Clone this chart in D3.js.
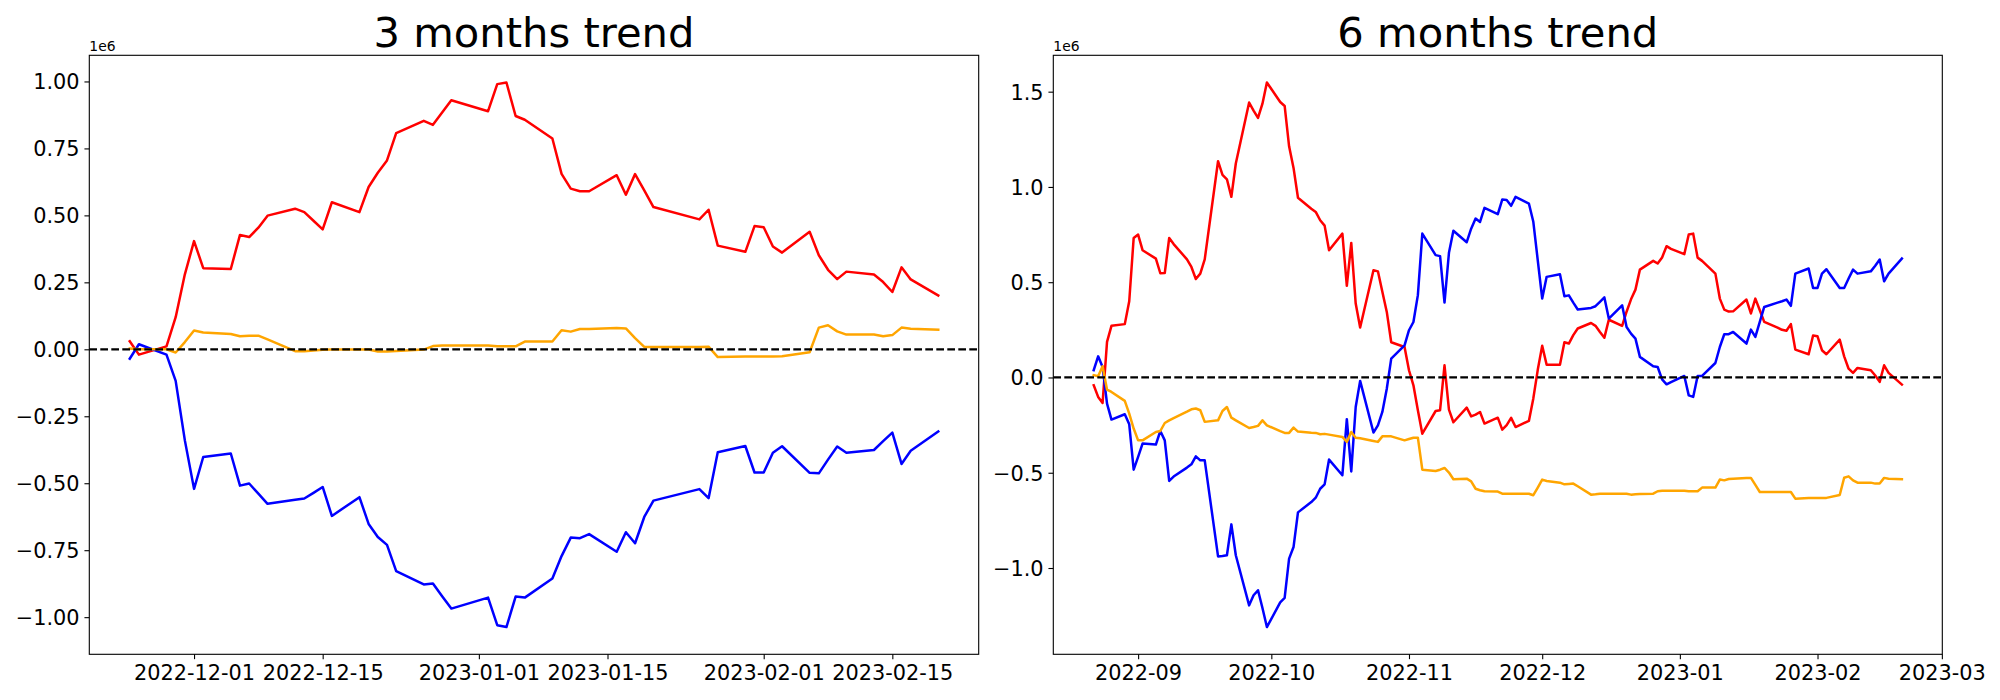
<!DOCTYPE html>
<html>
<head>
<meta charset="utf-8">
<script src="https://cdn.jsdelivr.net/npm/d3@7"></script>
<style>
    body { margin: 0; background: #fff; }
    svg { display: block; font-family: "DejaVu Sans", sans-serif; }
</style>
</head>
<body>
<script>

// all values are in units of 1e6 (the "1e6" offset label on each axis)

// ---- 3 months panel ----
const dates3m = [
    "2022-11-24", "2022-11-25", "2022-11-28", "2022-11-29", "2022-11-30",
    "2022-12-01", "2022-12-02", "2022-12-05", "2022-12-06", "2022-12-07", "2022-12-08", "2022-12-09",
    "2022-12-12", "2022-12-13", "2022-12-14", "2022-12-15", "2022-12-16", "2022-12-19", "2022-12-20",
    "2022-12-21", "2022-12-22", "2022-12-23", "2022-12-26", "2022-12-27", "2022-12-28", "2022-12-29",
    "2023-01-02", "2023-01-03", "2023-01-04", "2023-01-05", "2023-01-06", "2023-01-09", "2023-01-10",
    "2023-01-11", "2023-01-12", "2023-01-13", "2023-01-16", "2023-01-17", "2023-01-18", "2023-01-19",
    "2023-01-20", "2023-01-25", "2023-01-26", "2023-01-27", "2023-01-30", "2023-01-31",
    "2023-02-01", "2023-02-02", "2023-02-03", "2023-02-06", "2023-02-07", "2023-02-08", "2023-02-09",
    "2023-02-10", "2023-02-13", "2023-02-14", "2023-02-15", "2023-02-16", "2023-02-17", "2023-02-20"
];
const red3m = [
    0.030, -0.020, 0.011, 0.120, 0.280,
    0.404, 0.303, 0.300, 0.427, 0.419, 0.454, 0.499,
    0.525, 0.512, 0.480, 0.448, 0.549, 0.512, 0.606,
    0.659, 0.705, 0.807, 0.853, 0.838, 0.884, 0.930,
    0.889, 0.990, 0.996, 0.871, 0.857, 0.787, 0.655,
    0.600, 0.590, 0.590, 0.650, 0.577, 0.654, 0.593,
    0.531, 0.485, 0.521, 0.387, 0.364, 0.460,
    0.456, 0.384, 0.361, 0.439, 0.351, 0.297, 0.262,
    0.290, 0.279, 0.251, 0.214, 0.306, 0.261, 0.201
];
const blue3m = [
    -0.035, 0.019, -0.020, -0.118, -0.340,
    -0.521, -0.402, -0.389, -0.509, -0.501, -0.539, -0.577,
    -0.562, -0.557, -0.536, -0.514, -0.622, -0.552, -0.652,
    -0.701, -0.730, -0.828, -0.878, -0.874, -0.922, -0.968,
    -0.927, -1.030, -1.037, -0.923, -0.927, -0.856, -0.772,
    -0.703, -0.705, -0.690, -0.756, -0.683, -0.724, -0.626,
    -0.565, -0.522, -0.556, -0.384, -0.361, -0.460,
    -0.460, -0.386, -0.362, -0.461, -0.463, -0.412, -0.363,
    -0.386, -0.376, -0.343, -0.311, -0.428, -0.379, -0.307
];
const orange3m = [
    0.003, 0.000, 0.000, -0.012, 0.027,
    0.070, 0.063, 0.057, 0.049, 0.051, 0.051, 0.037,
    -0.007, -0.007, -0.004, -0.002, -0.001, -0.001, -0.001,
    -0.008, -0.008, -0.006, -0.001, 0.012, 0.014, 0.014,
    0.014, 0.011, 0.011, 0.011, 0.029, 0.029, 0.071,
    0.066, 0.076, 0.076, 0.080, 0.078, 0.042, 0.009,
    0.009, 0.009, 0.010, -0.029, -0.027, -0.027,
    -0.027, -0.027, -0.026, -0.011, 0.081, 0.090, 0.067,
    0.055, 0.055, 0.049, 0.053, 0.081, 0.077, 0.073
];
const xTicks3m = ["2022-12-01", "2022-12-15", "2023-01-01", "2023-01-15", "2023-02-01", "2023-02-15"];
const yTicks3m = [-1.0, -0.75, -0.5, -0.25, 0.0, 0.25, 0.5, 0.75, 1.0];

// ---- 6 months panel ----
const dates6m = [
    "2022-08-22", "2022-08-23", "2022-08-24", "2022-08-25", "2022-08-26", "2022-08-29", "2022-08-30", "2022-08-31",
    "2022-09-01", "2022-09-02", "2022-09-05", "2022-09-06", "2022-09-07", "2022-09-08", "2022-09-09",
    "2022-09-12", "2022-09-13", "2022-09-14", "2022-09-15", "2022-09-16", "2022-09-19", "2022-09-20",
    "2022-09-21", "2022-09-22", "2022-09-23", "2022-09-26", "2022-09-27", "2022-09-28", "2022-09-29", "2022-09-30",
    "2022-10-03", "2022-10-04", "2022-10-05", "2022-10-06", "2022-10-07", "2022-10-10", "2022-10-11",
    "2022-10-12", "2022-10-13", "2022-10-14", "2022-10-17", "2022-10-18", "2022-10-19", "2022-10-20",
    "2022-10-21", "2022-10-24", "2022-10-25", "2022-10-26", "2022-10-27", "2022-10-28", "2022-10-31",
    "2022-11-01", "2022-11-02", "2022-11-03", "2022-11-04", "2022-11-07", "2022-11-08", "2022-11-09",
    "2022-11-10", "2022-11-11", "2022-11-14", "2022-11-15", "2022-11-16", "2022-11-17", "2022-11-18",
    "2022-11-21", "2022-11-22", "2022-11-23", "2022-11-24", "2022-11-25", "2022-11-28", "2022-11-29", "2022-11-30",
    "2022-12-01", "2022-12-02", "2022-12-05", "2022-12-06", "2022-12-07", "2022-12-08", "2022-12-09",
    "2022-12-12", "2022-12-13", "2022-12-14", "2022-12-15", "2022-12-16", "2022-12-19", "2022-12-20",
    "2022-12-21", "2022-12-22", "2022-12-23", "2022-12-26", "2022-12-27", "2022-12-28", "2022-12-29", "2022-12-30",
    "2023-01-02", "2023-01-03", "2023-01-04", "2023-01-05", "2023-01-06", "2023-01-09", "2023-01-10",
    "2023-01-11", "2023-01-12", "2023-01-13", "2023-01-16", "2023-01-17", "2023-01-18", "2023-01-19",
    "2023-01-20", "2023-01-23", "2023-01-24", "2023-01-25", "2023-01-26", "2023-01-27", "2023-01-30", "2023-01-31",
    "2023-02-01", "2023-02-02", "2023-02-03", "2023-02-06", "2023-02-07", "2023-02-08", "2023-02-09",
    "2023-02-10", "2023-02-13", "2023-02-14", "2023-02-15", "2023-02-16", "2023-02-17", "2023-02-20"
];
const red6m = [
    -0.041, -0.102, -0.134, 0.187, 0.271, 0.280, 0.400, 0.732,
    0.750, 0.668, 0.624, 0.547, 0.548, 0.732, 0.700,
    0.620, 0.580, 0.517, 0.545, 0.620, 1.135, 1.063,
    1.040, 0.948, 1.123, 1.443, 1.401, 1.362, 1.437, 1.548,
    1.446, 1.425, 1.213, 1.100, 0.943, 0.886, 0.869,
    0.825, 0.797, 0.668, 0.755, 0.481, 0.706, 0.388,
    0.262, 0.563, 0.557, 0.450, 0.344, 0.185, 0.160,
    0.038, -0.041, -0.172, -0.295, -0.176, -0.172, 0.064,
    -0.169, -0.235, -0.158, -0.204, -0.195, -0.181, -0.242,
    -0.211, -0.274, -0.250, -0.212, -0.260, -0.228, -0.110, 0.040,
    0.166, 0.067, 0.067, 0.185, 0.178, 0.222, 0.257,
    0.286, 0.271, 0.239, 0.209, 0.303, 0.271, 0.345,
    0.410, 0.461, 0.566, 0.612, 0.598, 0.630, 0.689, 0.675,
    0.647, 0.750, 0.755, 0.629, 0.612, 0.545, 0.414,
    0.356, 0.346, 0.347, 0.409, 0.336, 0.414, 0.353,
    0.292, 0.262, 0.250, 0.245, 0.280, 0.146, 0.122, 0.220,
    0.216, 0.143, 0.122, 0.199, 0.111, 0.046, 0.024,
    0.050, 0.038, 0.010, -0.023, 0.064, 0.024, -0.037
];
const blue6m = [
    0.038, 0.111, 0.055, -0.137, -0.221, -0.193, -0.246, -0.484,
    -0.417, -0.347, -0.352, -0.281, -0.330, -0.543, -0.520,
    -0.473, -0.456, -0.414, -0.435, -0.435, -0.939, -0.937,
    -0.933, -0.771, -0.933, -1.196, -1.143, -1.117, -1.210, -1.310,
    -1.180, -1.157, -0.951, -0.890, -0.708, -0.654, -0.631,
    -0.584, -0.561, -0.431, -0.513, -0.219, -0.493, -0.155,
    -0.018, -0.289, -0.251, -0.181, -0.059, 0.099, 0.169,
    0.248, 0.291, 0.432, 0.755, 0.642, 0.637, 0.393,
    0.654, 0.770, 0.710, 0.781, 0.834, 0.816, 0.890,
    0.857, 0.934, 0.931, 0.901, 0.948, 0.913, 0.817, 0.615,
    0.414, 0.528, 0.542, 0.426, 0.431, 0.393, 0.357,
    0.365, 0.374, 0.397, 0.420, 0.309, 0.379, 0.265,
    0.230, 0.204, 0.108, 0.059, 0.055, -0.010, -0.036, -0.024,
    0.008, -0.094, -0.102, 0.008, 0.008, 0.076, 0.160,
    0.227, 0.227, 0.239, 0.178, 0.251, 0.213, 0.292,
    0.370, 0.393, 0.400, 0.409, 0.376, 0.545, 0.572, 0.470,
    0.470, 0.545, 0.568, 0.470, 0.470, 0.519, 0.566,
    0.545, 0.557, 0.586, 0.619, 0.505, 0.545, 0.624
];
const orange6m = [
    0.012, 0.006, 0.059, -0.064, -0.076, -0.123, -0.190, -0.268,
    -0.330, -0.330, -0.286, -0.281, -0.239, -0.225, -0.213,
    -0.179, -0.167, -0.163, -0.172, -0.233, -0.225, -0.176,
    -0.155, -0.211, -0.225, -0.265, -0.260, -0.254, -0.225, -0.251,
    -0.282, -0.291, -0.291, -0.263, -0.284, -0.290, -0.291,
    -0.298, -0.296, -0.300, -0.312, -0.338, -0.286, -0.316,
    -0.319, -0.333, -0.338, -0.309, -0.309, -0.309, -0.330,
    -0.323, -0.316, -0.316, -0.484, -0.491, -0.484, -0.475,
    -0.499, -0.534, -0.531, -0.545, -0.584, -0.592, -0.597,
    -0.599, -0.610, -0.610, -0.610, -0.610, -0.610, -0.618, -0.578,
    -0.536, -0.543, -0.552, -0.561, -0.559, -0.557, -0.571,
    -0.615, -0.613, -0.610, -0.610, -0.610, -0.610, -0.610,
    -0.615, -0.613, -0.612, -0.610, -0.597, -0.595, -0.595, -0.594,
    -0.594, -0.597, -0.597, -0.597, -0.578, -0.578, -0.536,
    -0.540, -0.533, -0.531, -0.527, -0.527, -0.564, -0.601,
    -0.601, -0.601, -0.601, -0.601, -0.601, -0.636, -0.632, -0.632,
    -0.632, -0.632, -0.632, -0.617, -0.526, -0.519, -0.540,
    -0.552, -0.552, -0.557, -0.557, -0.527, -0.531, -0.534
];
const xTicks6m = ["2022-09-01", "2022-10-01", "2022-11-01", "2022-12-01", "2023-01-01", "2023-02-01", "2023-03-01"];
const yTicks6m = [-1.0, -0.5, 0.0, 0.5, 1.0, 1.5];


var parseDate = d3.utcParse("%Y-%m-%d");
var tickFont = 20.83;   // 15pt at 100dpi

var svg = d3.select("body")
    .append("svg")
    .attr("width", 2000)
    .attr("height", 700);

svg.append("rect").attr("width", 2000).attr("height", 700).attr("fill", "white");


function drawPanel(p) {
    var dates = p.dates.map(parseDate);

    // matplotlib style 5% margins on both axes
    var ext = d3.extent(dates);
    var xpad = (ext[1] - ext[0]) * 0.05;
    var xScale = d3.scaleUtc()
        .domain([new Date(+ext[0] - xpad), new Date(+ext[1] + xpad)])
        .range([p.left, p.right]);

    var allVals = p.series.flatMap(s => s.values);
    var yext = d3.extent(allVals);
    var ypad = (yext[1] - yext[0]) * 0.05;
    var yScale = d3.scaleLinear()
        .domain([yext[0] - ypad, yext[1] + ypad])
        .range([p.bottom, p.top]);

    var g = svg.append("g").attr("class", "panel");

    var line = d3.line()
        .x((d, i) => xScale(dates[i]))
        .y(d => yScale(d));

    p.series.forEach(function (s) {
        g.append("path")
            .datum(s.values)
            .attr("d", line)
            .attr("fill", "none")
            .attr("stroke", s.color)
            .attr("stroke-width", 2.5)
            .attr("stroke-linejoin", "round")
            .attr("stroke-linecap", "square");
    });

    // zero line
    g.append("line")
        .attr("x1", p.left).attr("x2", p.right)
        .attr("y1", yScale(0)).attr("y2", yScale(0))
        .attr("stroke", "black")
        .attr("stroke-width", 2.2)
        .attr("stroke-dasharray", "7.7,3.3");

    // axes
    var xAxis = d3.axisBottom(xScale)
        .tickValues(p.xTicks.map(parseDate))
        .tickFormat(d3.utcFormat(p.xFormat))
        .tickSize(4.86)
        .tickSizeOuter(0)
        .tickPadding(6);

    var yAxis = d3.axisLeft(yScale)
        .tickValues(p.yTicks)
        .tickFormat(d3.format(p.yFormat))
        .tickSize(4.86)
        .tickSizeOuter(0)
        .tickPadding(4.86);

    var gx = g.append("g")
        .attr("transform", "translate(0," + p.bottom + ")")
        .call(xAxis);
    var gy = g.append("g")
        .attr("transform", "translate(" + p.left + ",0)")
        .call(yAxis);

    [gx, gy].forEach(function (ax) {
        ax.select(".domain").remove();
        ax.selectAll(".tick line").attr("stroke", "black").attr("stroke-width", 1.1);
        ax.selectAll(".tick text")
            .attr("fill", "black")
            .style("font-family", "DejaVu Sans")
            .style("font-size", tickFont + "px");
    });
    gy.selectAll(".tick text").attr("dy", "0.36em");

    // frame
    g.append("rect")
        .attr("x", p.left).attr("y", p.top)
        .attr("width", p.right - p.left)
        .attr("height", p.bottom - p.top)
        .attr("fill", "none")
        .attr("stroke", "black")
        .attr("stroke-width", 1.1);

    // offset label + title
    g.append("text")
        .attr("x", p.left)
        .attr("y", p.top - 4.5)
        .style("font-size", "13.9px")
        .text("1e6");

    g.append("text")
        .attr("x", (p.left + p.right) / 2)
        .attr("y", p.top - 8.5)
        .attr("text-anchor", "middle")
        .style("font-size", "41.67px")
        .text(p.title);
}


drawPanel({
    title: "3 months trend",
    left: 89.3, right: 978.7, top: 55.3, bottom: 654.3,
    dates: dates3m,
    series: [
        { values: red3m, color: "red" },
        { values: blue3m, color: "blue" },
        { values: orange3m, color: "orange" }
    ],
    xTicks: xTicks3m, xFormat: "%Y-%m-%d",
    yTicks: yTicks3m, yFormat: ".2f"
});

drawPanel({
    title: "6 months trend",
    left: 1053.3, right: 1942.3, top: 55.3, bottom: 654.3,
    dates: dates6m,
    series: [
        { values: red6m, color: "red" },
        { values: blue6m, color: "blue" },
        { values: orange6m, color: "orange" }
    ],
    xTicks: xTicks6m, xFormat: "%Y-%m",
    yTicks: yTicks6m, yFormat: ".1f"
});

</script>
</body>
</html>
